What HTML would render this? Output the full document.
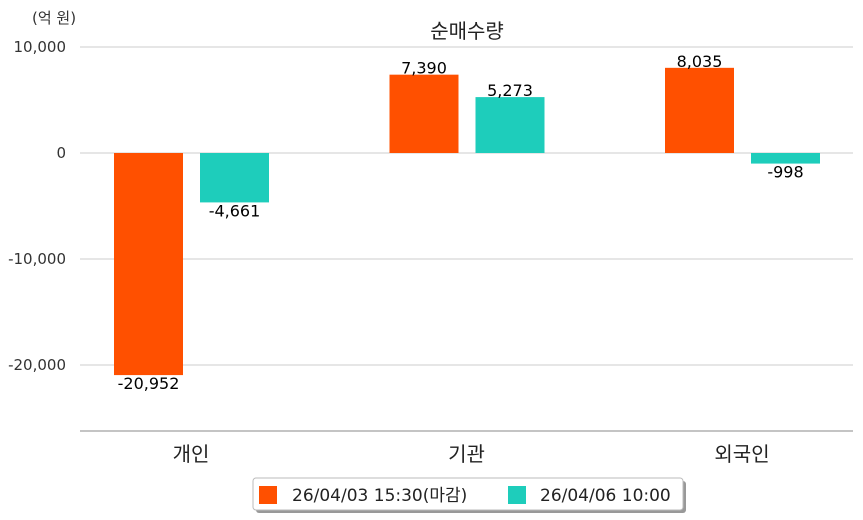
<!DOCTYPE html>
<html><head><meta charset="utf-8"><style>
body{margin:0;background:#fff;}
svg{display:block;font-family:"DejaVu Sans","Noto Sans CJK KR",sans-serif;}
</style></head><body>
<svg id="c" width="863" height="520"></svg>
<script>
const categories=["개인","기관","외국인"];
const seriesA=[-20952,7390,8035];
const seriesB=[-4661,5273,-998];
const seriesNames=["26/04/03 15:30(마감)","26/04/06 10:00"];
const yTicks=[10000,0,-10000,-20000];
const colors=["#ff5000","#1ecdbb"];
const svg=document.getElementById('c');
const NS="http://www.w3.org/2000/svg";
function y(v){return 153-v*106/10000;}
function x(i){return 191+i*275.5;}
function mk(t,a,txt,name){const e=document.createElementNS(NS,t);for(const k in a)e.setAttribute(k,a[k]);if(txt!==undefined)e.textContent=txt;


svg.appendChild(e);return e;}
mk('text',{x:32,y:23,'font-size':15,fill:'#333'},'(억 원)','y-unit-label');
mk('text',{x:467,y:38,'font-size':20,fill:'#222','text-anchor':'middle'},'순매수량','chart-title');
yTicks.forEach(t=>{
 mk('line',{x1:80,x2:853,y1:y(t),y2:y(t),stroke:'#cccccc','stroke-width':1},undefined,'gridline');
 mk('text',{x:66,y:y(t)+5,'font-size':15,fill:'#333','text-anchor':'end'},t.toLocaleString('en-US'),'y-tick-label');
});
mk('line',{x1:80,x2:853,y1:431,y2:431,stroke:'#888','stroke-width':1},undefined,'x-axis-line');
categories.forEach((c,i)=>{
 mk('text',{x:x(i),y:461,'font-size':20,fill:'#222','text-anchor':'middle'},c,'x-category-label');
 [seriesA[i],seriesB[i]].forEach((v,s)=>{
  const bx=x(i)+(s===0?-77:9);
  const y0=y(Math.max(v,0)),h=Math.abs(y(v)-y(0));
  mk('rect',{x:bx,y:y0,width:69,height:h,fill:colors[s]},undefined,'bar-'+(s===0?'a':'b')+'-'+i);
  const ly=v>=0?y(v)-1:y(v)+14;
  mk('text',{x:bx+34.5,y:ly,'font-size':16,fill:'#000','text-anchor':'middle'},v.toLocaleString('en-US'),'bar-value-label');
 });
});
mk('rect',{x:256,y:481,width:430,height:32,fill:'#999',rx:3},undefined,'legend-shadow');
mk('rect',{x:253,y:478,width:430,height:32,fill:'#fff',stroke:'#bbb',rx:3},undefined,'legend-box');
mk('rect',{x:259,y:486,width:18,height:18,fill:colors[0]},undefined,'legend-swatch-a');
mk('text',{x:292,y:501,'font-size':17,fill:'#222'},seriesNames[0],'legend-label-a');
mk('rect',{x:508,y:486,width:18,height:18,fill:colors[1]},undefined,'legend-swatch-b');
mk('text',{x:540,y:501,'font-size':17,fill:'#222'},seriesNames[1],'legend-label-b');
</script>
</body></html>
